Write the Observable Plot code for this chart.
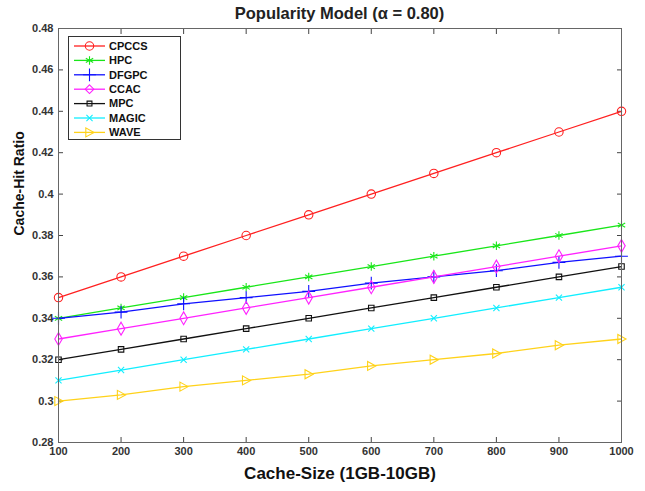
<!DOCTYPE html>
<html>
<head>
<meta charset="utf-8">
<script src="https://cdn.jsdelivr.net/npm/d3@7"></script>
<script src="https://cdn.jsdelivr.net/npm/@observablehq/plot@0.6"></script>
<style>
  html, body { margin: 0; padding: 0; background: #fff; }
  #wrap { position: relative; width: 645px; height: 491px; font-family: "Liberation Sans", Arial, sans-serif; }
  #title { height: 20px; line-height: 20px; font-weight: bold; font-size: 16.5px; color: #222;
           text-align: center; padding-left: 34px; box-sizing: border-box; padding-top: 3px; }
  #legend { position: absolute; left: 0; top: 0; }
</style>
</head>
<body>
<div id="wrap">
  <div id="title">Popularity Model (α = 0.80)</div>
  <div id="chart"></div>
  <svg id="legend" width="645" height="491"></svg>
</div>
<script>
// Cache sizes on the x axis
const cacheSizes = [100, 200, 300, 400, 500, 600, 700, 800, 900, 1000];

// Cache-hit ratio per scheme
const cpccs = [0.350, 0.360, 0.370, 0.380, 0.390, 0.400, 0.410, 0.420, 0.430, 0.440];
const hpc   = [0.340, 0.345, 0.350, 0.355, 0.360, 0.365, 0.370, 0.375, 0.380, 0.385];
const dfgpc = [0.340, 0.343, 0.347, 0.350, 0.353, 0.357, 0.360, 0.363, 0.367, 0.370];
const ccac  = [0.330, 0.335, 0.340, 0.345, 0.350, 0.355, 0.360, 0.365, 0.370, 0.375];
const mpc   = [0.320, 0.325, 0.330, 0.335, 0.340, 0.345, 0.350, 0.355, 0.360, 0.365];
const magic = [0.310, 0.315, 0.320, 0.325, 0.330, 0.335, 0.340, 0.345, 0.350, 0.355];
const wave  = [0.300, 0.303, 0.307, 0.310, 0.313, 0.317, 0.320, 0.323, 0.327, 0.330];

const xTicks = [100, 200, 300, 400, 500, 600, 700, 800, 900, 1000];
const yTicks = [0.28, 0.30, 0.32, 0.34, 0.36, 0.38, 0.40, 0.42, 0.44, 0.46, 0.48];

// Right-pointing triangle marker
const triangleRight = {
  draw(ctx, size) {
    const r = Math.sqrt(size / Math.PI);
    ctx.moveTo(r * 1.1, 0);
    ctx.lineTo(-r * 0.9, -r * 1.1);
    ctx.lineTo(-r * 0.9, r * 1.1);
    ctx.closePath();
  }
};

const seriesDefs = [
  {name: "CPCCS", values: cpccs, color: "#ff2020", symbol: "circle",   r: 4.2},
  {name: "HPC",   values: hpc,   color: "#19e619", symbol: "asterisk", r: 4.0},
  {name: "DFGPC", values: dfgpc, color: "#1010ff", symbol: "plus",     r: 4.2},
  {name: "CCAC",  values: ccac,  color: "#ff22ff", symbol: "diamond",  r: 3.9},
  {name: "MPC",   values: mpc,   color: "#111111", symbol: "square",   r: 3.1},
  {name: "MAGIC", values: magic, color: "#11eeff", symbol: "times",    r: 2.9},
  {name: "WAVE",  values: wave,  color: "#ffd21a", symbol: triangleRight, r: 4.1}
];

const marks = [];
for (const s of seriesDefs) {
  const rows = cacheSizes.map((x, i) => ({x, y: s.values[i]}));
  marks.push(Plot.line(rows, {x: "x", y: "y", stroke: s.color, strokeWidth: 1.3}));
  marks.push(Plot.dot(rows, {x: "x", y: "y", stroke: s.color, fill: "none", strokeWidth: 1.1, symbol: s.symbol, r: s.r}));
}

const tickFmtX = d => String(d);
const tickFmtY = d => String(+d.toFixed(2));

const chart = Plot.plot({
  width: 645,
  height: 471,
  marginLeft: 58,
  marginRight: 24,
  marginTop: 8,
  marginBottom: 49,
  style: {fontFamily: "Liberation Sans, Arial, sans-serif", fontSize: "11px", fontWeight: "bold", color: "#333", background: "#fff"},
  x: {domain: [100, 1000], label: null},
  y: {domain: [0.28, 0.48], label: null},
  marks: [
    Plot.axisX(xTicks, {anchor: "bottom", tickSize: -5, tickPadding: 10, tickFormat: tickFmtX, stroke: "#444", label: null}),
    Plot.axisX(xTicks, {anchor: "top", tickSize: -5, tickFormat: () => "", stroke: "#444", label: null}),
    Plot.axisY(yTicks, {anchor: "left", tickSize: -5, tickPadding: 10, tickFormat: tickFmtY, stroke: "#444", label: null}),
    Plot.axisY(yTicks, {anchor: "right", tickSize: -5, tickFormat: () => "", stroke: "#444", label: null}),
    ...marks,
    Plot.frame({stroke: "#666", strokeWidth: 1}),
    Plot.text(["Cache-Size (1GB-10GB)"], {frameAnchor: "bottom", dy: 36, fontSize: 17, fontWeight: "bold", fill: "#111"}),
    Plot.text(["Cache-Hit Ratio"], {frameAnchor: "left", dx: -39, rotate: -90, fontSize: 14, fontWeight: "bold", fill: "#111"})
  ]
});
document.getElementById("chart").appendChild(chart);

// Legend box in the upper-left corner of the plot area
const leg = d3.select("#legend");
const lx = 68, ly = 36, lw = 112, lh = 103;
leg.append("rect").attr("x", lx + 0.5).attr("y", ly + 0.5).attr("width", lw).attr("height", lh)
  .attr("fill", "#fff").attr("stroke", "#333").attr("stroke-width", 1);
const symMap = {
  circle: d3.symbolCircle, asterisk: d3.symbolAsterisk, plus: d3.symbolPlus,
  diamond: d3.symbolDiamond2, square: d3.symbolSquare2, times: d3.symbolTimes
};
seriesDefs.forEach((s, i) => {
  const y = ly + 10 + i * 14.4;
  const g = leg.append("g");
  g.append("line").attr("x1", lx + 6).attr("x2", lx + 37).attr("y1", y).attr("y2", y)
    .attr("stroke", s.color).attr("stroke-width", 1.3);
  const type = typeof s.symbol === "string" ? symMap[s.symbol] : s.symbol;
  g.append("path").attr("transform", `translate(${lx + 21.5},${y})`)
    .attr("d", d3.symbol(type, Math.PI * s.r * s.r)())
    .attr("fill", "none").attr("stroke", s.color).attr("stroke-width", 1.1);
  g.append("text").attr("x", lx + 41).attr("y", y).attr("dy", "0.35em")
    .attr("font-family", "Liberation Sans, Arial, sans-serif").attr("font-size", 11)
    .attr("font-weight", "bold").attr("fill", "#111").text(s.name);
});
</script>
</body>
</html>
